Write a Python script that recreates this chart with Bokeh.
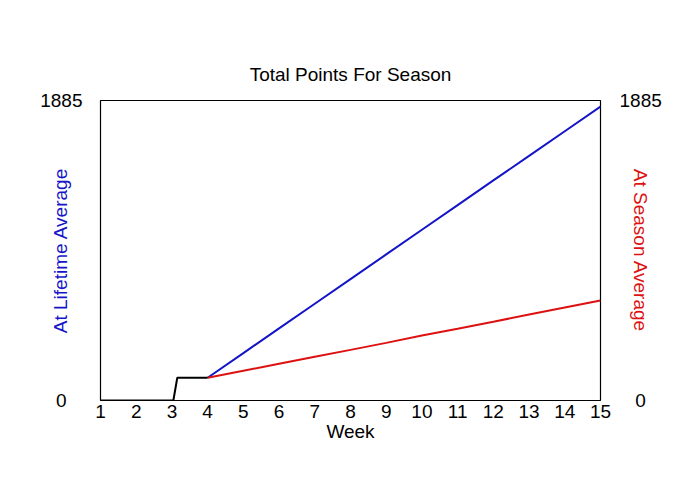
from bokeh.plotting import figure
from bokeh.models import Range1d, FixedTicker, LinearAxis
from bokeh.embed import file_html
from bokeh.resources import INLINE

# Data
weeks_base = [1, 2, 3, 3.04, 3.15, 4]
points_base = [0, 0, 0, 0, 143, 143]
weeks = [4, 5, 6, 7, 8, 9, 10, 11, 12, 13, 14, 15]
lifetime_avg = [143, 298, 453, 608, 763, 918, 1073, 1228, 1383, 1537, 1692, 1847]
season_avg = [143, 187, 231, 275, 318, 362, 408, 451, 495, 540, 584, 628]
week_ticks = list(range(1, 16))
y_ticks = [0, 1885]

FONT = "Liberation Sans"
FS = "19px"
BLUE = "#1515c8"
RED = "#dd1111"
NB = "\u00a0"

p = figure(width=684, height=484, output_backend="svg", toolbar_location=None,
           x_range=Range1d(1, 15), y_range=Range1d(0, 1885),
           min_border_left=100, min_border_right=84, min_border_top=100, min_border_bottom=84)
p.grid.visible = False
p.outline_line_color = "black"
p.outline_line_width = 1.2
p.background_fill_color = "white"
p.border_fill_color = "white"

p.title.text = "Total Points For Season"
p.title.align = "center"
p.title.text_font = FONT
p.title.text_font_size = FS
p.title.text_font_style = "normal"
p.title.text_color = "black"
p.title.standoff = 32

p.line(weeks, lifetime_avg, line_color=BLUE, line_width=2)
p.line(weeks, season_avg, line_color=RED, line_width=2)
p.line(weeks_base, points_base, line_color="black", line_width=2)

ax = p.xaxis[0]
ax.ticker = FixedTicker(ticks=week_ticks)
ax.axis_label = "Week"
ax.axis_line_color = None
ax.major_tick_line_color = None
ax.minor_tick_line_color = None
ax.major_label_text_font = FONT
ax.major_label_text_font_size = FS
ax.major_label_text_color = "black"
ax.major_label_standoff = -2
ax.axis_label_text_font = FONT
ax.axis_label_text_font_size = FS
ax.axis_label_text_font_style = "normal"
ax.axis_label_text_color = "black"
ax.axis_label_standoff = 0

ly = p.yaxis[0]
ry = LinearAxis()
p.add_layout(ry, "right")
settings = [
    (ly, "At Lifetime Average", BLUE, {0: "0" + NB * 3, 1885: "1885"}, 18, -34),
    (ry, "At Season Average", RED, {0: NB * 3 + "0", 1885: "1885"}, 19, -35),
]
for a, lab, col, overrides, lstand, astand in settings:
    a.ticker = FixedTicker(ticks=y_ticks)
    a.major_label_overrides = overrides
    a.axis_label = lab
    a.axis_label_text_color = col
    a.axis_line_color = None
    a.major_tick_line_color = None
    a.minor_tick_line_color = None
    a.major_tick_out = 0
    a.major_tick_in = 0
    a.major_label_text_font = FONT
    a.major_label_text_font_size = FS
    a.major_label_text_color = "black"
    a.major_label_standoff = lstand
    a.axis_label_text_font = FONT
    a.axis_label_text_font_size = FS
    a.axis_label_text_font_style = "normal"
    a.axis_label_standoff = astand

open("out.html", "w").write(file_html(p, INLINE))
